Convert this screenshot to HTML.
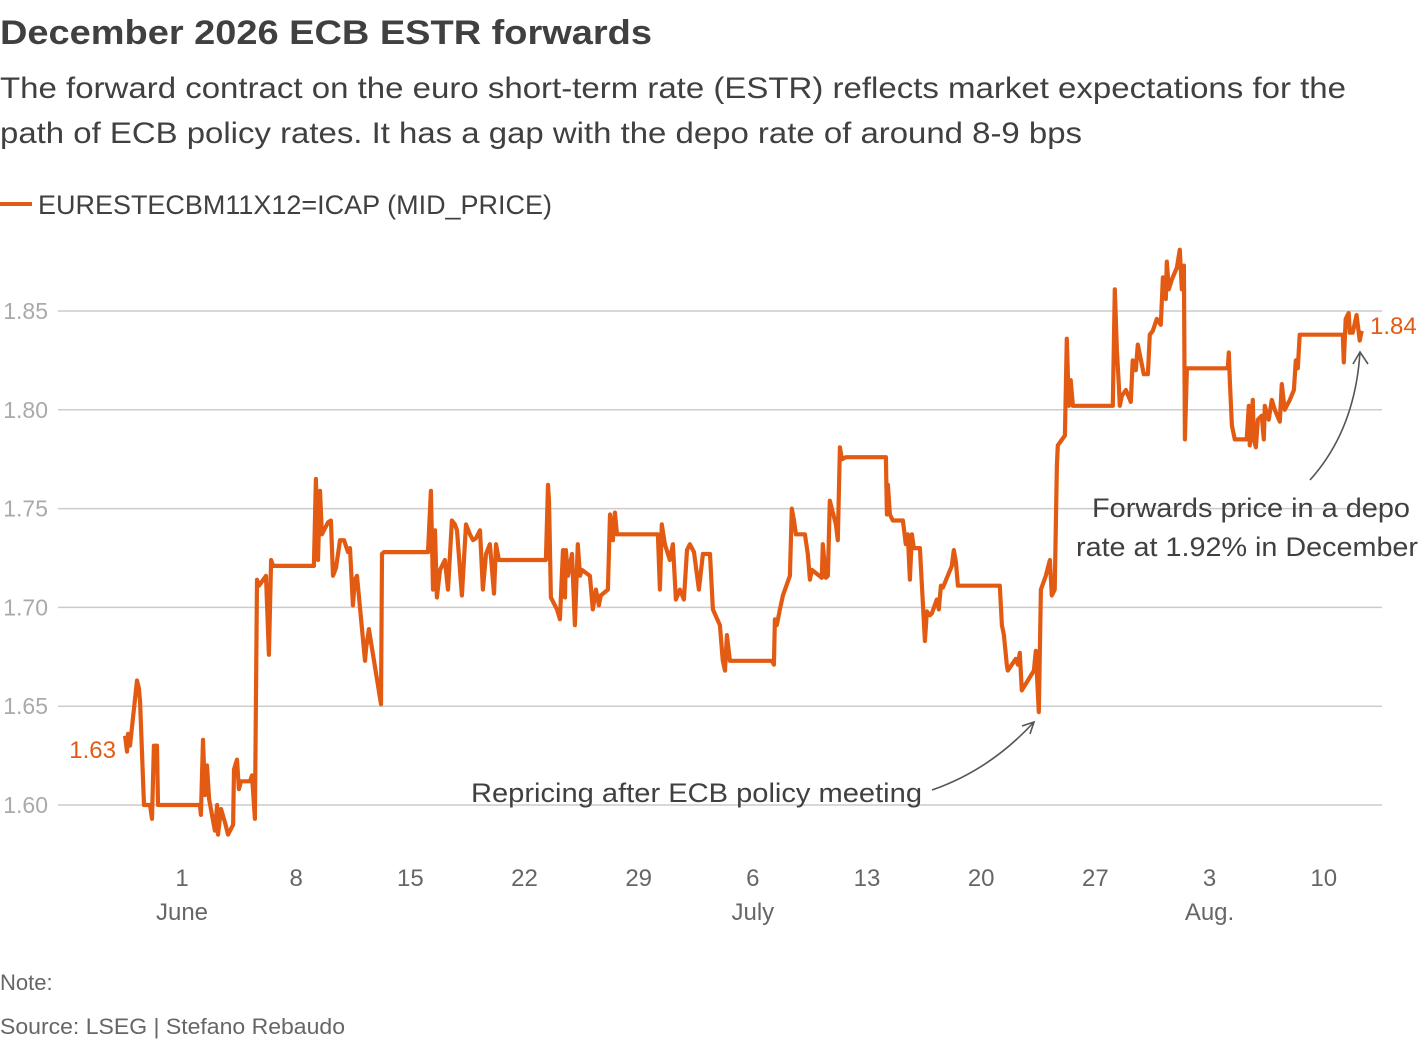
<!DOCTYPE html>
<html><head><meta charset="utf-8"><style>
body{margin:0;background:#fff;font-family:"Liberation Sans",sans-serif;}
svg text{font-family:"Liberation Sans",sans-serif;}
</style></head><body>
<svg width="1420" height="1042" viewBox="0 0 1420 1042">
<text x="0" y="44" font-size="34" font-weight="bold" fill="#404040" textLength="652" lengthAdjust="spacingAndGlyphs">December 2026 ECB ESTR forwards</text>
<text x="0" y="98" font-size="30" fill="#404040" textLength="1346" lengthAdjust="spacingAndGlyphs">The forward contract on the euro short-term rate (ESTR) reflects market expectations for the</text>
<text x="0" y="143" font-size="30" fill="#404040" textLength="1082" lengthAdjust="spacingAndGlyphs">path of ECB policy rates. It has a gap with the depo rate of around 8-9 bps</text>
<line x1="0" y1="204" x2="32" y2="204" stroke="#e35b12" stroke-width="4"/>
<text x="38" y="214" font-size="27" fill="#404040" textLength="514" lengthAdjust="spacingAndGlyphs">EURESTECBM11X12=ICAP (MID_PRICE)</text>
<g id="grid"></g>
<g id="xaxis"></g>
<path id="line" fill="none" stroke="#e35b12" stroke-width="4.2" stroke-linejoin="round"/>
<text x="116" y="758" font-size="24" fill="#e35b12" text-anchor="end">1.63</text>
<text x="1370" y="334" font-size="24" fill="#e35b12">1.84</text>
<path d="M932,790 Q990,770 1034,722" fill="none" stroke="#555" stroke-width="1.6"/>
<path d="M1022,726 L1034,722 L1030,734" fill="none" stroke="#555" stroke-width="1.6"/>
<text x="471" y="802" font-size="27" fill="#404040" textLength="451" lengthAdjust="spacingAndGlyphs">Repricing after ECB policy meeting</text>
<path d="M1310,480 Q1355,430 1360,352" fill="none" stroke="#555" stroke-width="1.6"/>
<path d="M1353,364 L1360,352 L1368,364" fill="none" stroke="#555" stroke-width="1.6"/>
<text x="1092" y="517" font-size="27" fill="#404040" textLength="318" lengthAdjust="spacingAndGlyphs">Forwards price in a depo</text>
<text x="1076" y="556" font-size="27" fill="#404040" textLength="342" lengthAdjust="spacingAndGlyphs">rate at 1.92% in December</text>
<text x="0" y="990" font-size="22" fill="#666">Note:</text>
<text x="0" y="1034" font-size="22" fill="#666" textLength="345" lengthAdjust="spacingAndGlyphs">Source: LSEG | Stefano Rebaudo</text>
</svg>
<script>
const yTicks=[1.60,1.65,1.70,1.75,1.80,1.85];
const xTickDays=[0,7,14,21,28,35,42,49,56,63,70];
const xTickLabels=["1","8","15","22","29","6","13","20","27","3","10"];
const monthDays=[0,35,63];
const monthLabels=["June","July","Aug."];
const days=[-3.49,-3.37,-3.31,-3.19,-2.76,-2.64,-2.57,-2.39,-2.33,-1.96,-1.84,-1.72,-1.53,-1.47,1.10,1.16,1.29,1.41,1.53,1.66,2.02,2.15,2.21,2.39,2.64,2.82,3.13,3.19,3.37,3.49,3.62,4.17,4.29,4.47,4.60,4.72,5.15,5.33,5.46,5.58,8.09,8.21,8.34,8.46,8.58,8.95,9.13,9.26,9.44,9.69,9.93,10.18,10.30,10.48,10.60,10.73,11.22,11.28,11.46,12.20,12.26,12.38,15.08,15.26,15.39,15.51,15.63,15.82,16.12,16.31,16.55,16.73,16.86,17.16,17.41,17.65,17.84,18.02,18.27,18.45,18.64,18.88,19.13,19.25,19.43,19.62,22.31,22.44,22.50,22.62,22.99,23.17,23.36,23.48,23.54,23.66,23.91,24.09,24.27,24.40,24.52,25.01,25.19,25.38,25.56,25.68,26.11,26.24,26.42,26.54,26.67,29.18,29.30,29.42,29.61,29.91,30.10,30.28,30.53,30.77,30.96,31.14,31.39,31.69,31.94,32.37,32.55,32.98,33.16,33.29,33.41,33.59,36.17,36.29,36.35,36.47,36.66,36.84,37.27,37.39,37.52,37.64,38.19,38.37,38.50,38.62,39.23,39.29,39.48,39.60,39.72,40.09,40.21,40.34,40.46,40.70,43.16,43.22,43.28,43.40,43.58,44.20,44.38,44.50,44.63,44.75,44.87,45.24,45.55,45.67,45.85,45.98,46.28,46.40,46.53,46.65,47.20,47.32,47.45,47.57,50.14,50.27,50.39,50.57,50.63,51.12,51.25,51.37,51.49,52.23,52.35,52.53,52.66,52.96,53.21,53.33,53.51,53.64,53.70,54.13,54.25,54.37,54.49,54.62,57.07,57.19,57.32,57.44,57.50,57.62,57.87,58.17,58.29,58.48,58.60,58.97,59.22,59.34,59.52,59.77,60.01,60.14,60.32,60.38,60.50,60.69,61.00,61.18,61.30,61.43,61.49,61.61,64.12,64.18,64.24,64.37,64.55,65.28,65.41,65.47,65.65,65.71,65.84,65.96,66.20,66.33,66.39,66.63,66.82,67.00,67.31,67.43,67.61,67.92,68.17,68.29,68.41,68.53,71.17,71.23,71.35,71.53,71.60,71.78,72.02,72.21,72.33];
const values=[1.635,1.627,1.636,1.630,1.663,1.659,1.652,1.613,1.600,1.600,1.593,1.630,1.630,1.600,1.600,1.595,1.633,1.605,1.620,1.603,1.587,1.600,1.585,1.598,1.591,1.585,1.590,1.618,1.623,1.608,1.612,1.612,1.615,1.593,1.714,1.711,1.716,1.676,1.724,1.721,1.721,1.765,1.724,1.759,1.737,1.743,1.744,1.716,1.720,1.734,1.734,1.728,1.730,1.701,1.714,1.716,1.673,1.679,1.689,1.651,1.727,1.728,1.728,1.759,1.709,1.739,1.705,1.719,1.724,1.709,1.744,1.742,1.739,1.706,1.742,1.737,1.734,1.735,1.739,1.709,1.727,1.732,1.707,1.732,1.724,1.724,1.724,1.762,1.754,1.705,1.699,1.694,1.729,1.705,1.729,1.716,1.727,1.691,1.732,1.716,1.719,1.716,1.699,1.709,1.701,1.706,1.709,1.747,1.734,1.748,1.737,1.737,1.709,1.742,1.732,1.724,1.732,1.704,1.709,1.704,1.729,1.732,1.728,1.709,1.727,1.727,1.699,1.691,1.673,1.668,1.686,1.673,1.673,1.671,1.694,1.691,1.699,1.706,1.716,1.750,1.744,1.737,1.737,1.727,1.714,1.719,1.715,1.732,1.715,1.716,1.754,1.742,1.734,1.781,1.775,1.776,1.776,1.747,1.762,1.747,1.744,1.744,1.732,1.737,1.714,1.737,1.730,1.730,1.683,1.698,1.696,1.697,1.704,1.699,1.711,1.710,1.721,1.729,1.723,1.711,1.711,1.691,1.686,1.671,1.668,1.674,1.671,1.677,1.658,1.668,1.678,1.647,1.709,1.716,1.724,1.706,1.709,1.772,1.782,1.787,1.836,1.802,1.815,1.802,1.802,1.861,1.830,1.813,1.802,1.807,1.810,1.804,1.825,1.820,1.833,1.818,1.818,1.838,1.840,1.846,1.843,1.867,1.856,1.875,1.861,1.866,1.872,1.881,1.861,1.873,1.785,1.821,1.821,1.829,1.815,1.792,1.785,1.785,1.802,1.782,1.805,1.785,1.781,1.795,1.797,1.785,1.802,1.795,1.805,1.800,1.794,1.813,1.800,1.805,1.810,1.825,1.821,1.838,1.838,1.824,1.846,1.849,1.839,1.839,1.848,1.835,1.840];
const NS="http://www.w3.org/2000/svg";
function xScale(d){return 182+d*16.31;}
function yScale(v){return 805-(v-1.6)*1976;}
const grid=document.getElementById('grid');
yTicks.forEach(t=>{
  const l=document.createElementNS(NS,'line');
  
  
  l.setAttribute('x1',58);l.setAttribute('x2',1382);
  l.setAttribute('y1',yScale(t));l.setAttribute('y2',yScale(t));
  l.setAttribute('stroke','#ccc');l.setAttribute('stroke-width','1.5');
  grid.appendChild(l);
  const tx=document.createElementNS(NS,'text');
  
  
  tx.setAttribute('x',48);tx.setAttribute('y',yScale(t)+8);
  tx.setAttribute('text-anchor','end');tx.setAttribute('font-size','23');tx.setAttribute('fill','#aaa');
  tx.textContent=t.toFixed(2);
  grid.appendChild(tx);
});
const xa=document.getElementById('xaxis');
xTickDays.forEach((d,i)=>{
  const tx=document.createElementNS(NS,'text');
  
  
  tx.setAttribute('x',xScale(d));tx.setAttribute('y',886);
  tx.setAttribute('text-anchor','middle');tx.setAttribute('font-size','24');tx.setAttribute('fill','#666');
  tx.textContent=xTickLabels[i];
  xa.appendChild(tx);
});
monthDays.forEach((d,i)=>{
  const tx=document.createElementNS(NS,'text');
  
  
  tx.setAttribute('x',xScale(d));tx.setAttribute('y',920);
  tx.setAttribute('text-anchor','middle');tx.setAttribute('font-size','24');tx.setAttribute('fill','#666');
  tx.textContent=monthLabels[i];
  xa.appendChild(tx);
});
let dstr='';
days.forEach((d,i)=>{dstr+=(i?'L':'M')+xScale(d).toFixed(1)+','+yScale(values[i]).toFixed(1);});
document.getElementById('line').setAttribute('d',dstr);
</script>
</body></html>
